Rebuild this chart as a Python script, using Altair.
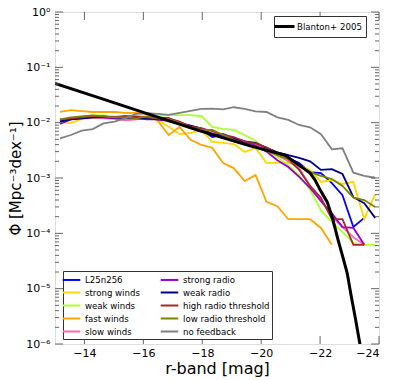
import altair as alt
import pandas as pd

# ---- data -------------------------------------------------------------
mags = [-13.17, -13.54, -13.91, -14.28, -14.65, -15.02, -15.38, -15.75, -16.12, -16.49,
        -16.86, -17.23, -17.60, -17.97, -18.34, -18.71, -19.07, -19.44, -19.81, -20.18,
        -20.55, -20.92, -21.29, -21.66, -22.03, -22.40, -22.76, -23.13, -23.50, -23.87]

phi_L25n256 = [1.12e-2, 1.16e-2, 1.26e-2, 1.32e-2, 1.26e-2, 1.26e-2, 1.32e-2, 1.26e-2, 1.21e-2, 1.21e-2,
               1.21e-2, 9.9e-3, 8.7e-3, 7.4e-3, 5.5e-3, 6.0e-3, 4.9e-3, 4.3e-3, 4.1e-3, 3.2e-3,
               2.7e-3, 2.3e-3, 1.87e-3, 1.28e-3, 1.23e-3, 8.1e-4, 4.9e-4, 1.3e-4, 1.9e-4, None]
phi_strong_winds = [1.03e-2, 9.9e-3, 1.16e-2, 1.21e-2, 1.21e-2, 1.16e-2, 1.12e-2, 1.16e-2, 1.21e-2, 1.12e-2,
                    8.4e-3, 6.2e-3, 6.5e-3, 7.4e-3, 4.5e-3, 4.3e-3, 4.1e-3, 2.95e-3, 3.5e-3, 1.87e-3,
                    1.87e-3, 1.87e-3, 1.7e-3, 1.4e-3, 8.5e-4, 9.2e-4, 7.8e-4, 8.5e-4, 1.8e-4, 5.1e-4]
phi_weak_winds = [1.1e-2, 1.2e-2, 1.3e-2, 1.35e-2, 1.35e-2, 1.3e-2, 1.3e-2, 1.3e-2, 1.3e-2, 1.3e-2,
                  1.37e-2, 1.37e-2, 1.37e-2, 1.32e-2, 8.4e-3, 7.7e-3, 7.4e-3, 6.0e-3, 4.7e-3, 3.3e-3,
                  2.4e-3, 1.7e-3, 1.13e-3, 6.1e-4, 2.6e-4, 1.6e-4, 1.06e-4, 6.7e-5, 6.2e-5, 6.2e-5]
phi_fast_winds = [1.56e-2, 1.69e-2, 1.62e-2, 1.56e-2, 1.56e-2, 1.56e-2, 1.5e-2, 1.5e-2, 1.44e-2, 1.07e-2,
                  6.0e-3, 8.4e-3, 4.9e-3, 3.95e-3, 3.5e-3, 1.87e-3, 1.51e-3, 8.8e-4, 1.13e-3, 3.7e-4,
                  3.1e-4, 1.8e-4, 1.8e-4, 1.8e-4, 1.25e-4, 6.2e-5, None, None, None, None]
phi_slow_winds = [1.1e-2, 1.2e-2, 1.25e-2, 1.25e-2, 1.2e-2, 1.2e-2, 1.1e-2, 1.15e-2, 1.2e-2, 1.15e-2,
                  1.05e-2, 9.5e-3, 8.5e-3, 7.0e-3, 6.5e-3, 5.8e-3, 5.2e-3, 4.6e-3, 4.0e-3, 3.4e-3,
                  2.6e-3, 2.0e-3, 1.5e-3, 7.2e-4, 4.0e-4, 2.0e-4, 1.3e-4, 8.5e-5, 6.2e-5, None]
phi_strong_radio = [9.5e-3, 1.15e-2, 1.2e-2, 1.25e-2, 1.25e-2, 1.2e-2, 1.2e-2, 1.2e-2, 1.15e-2, 1.15e-2,
                    1.1e-2, 1.0e-2, 8.8e-3, 7.6e-3, 6.3e-3, 5.8e-3, 5.0e-3, 4.5e-3, 3.8e-3, 3.0e-3,
                    2.1e-3, 1.58e-3, 1.05e-3, 6.6e-4, 3.8e-4, 2.3e-4, 1.3e-4, 1.25e-4, 6.2e-5, None]
phi_weak_radio = [1.05e-2, 1.15e-2, 1.2e-2, 1.25e-2, 1.28e-2, 1.25e-2, 1.22e-2, 1.25e-2, 1.2e-2, 1.15e-2,
                  1.1e-2, 9.5e-3, 8.8e-3, 7.8e-3, 6.0e-3, 6.2e-3, 5.2e-3, 4.6e-3, 4.3e-3, 3.5e-3,
                  2.9e-3, 2.6e-3, 2.3e-3, 2.0e-3, 1.4e-3, 1.45e-3, 1.18e-3, 4.5e-4, 3.5e-4, 1.9e-4]
phi_high_radio_threshold = [1.15e-2, 1.2e-2, 1.25e-2, 1.3e-2, 1.3e-2, 1.25e-2, 1.3e-2, 1.3e-2, 1.25e-2, 1.2e-2,
                            1.2e-2, 1.05e-2, 8.5e-3, 8.0e-3, 7.0e-3, 6.0e-3, 5.5e-3, 4.6e-3, 4.2e-3, 3.6e-3,
                            2.8e-3, 2.2e-3, 1.4e-3, 7.2e-4, 4.4e-4, 1.8e-4, 1.8e-4, 6.2e-5, 6.2e-5, None]
phi_low_radio_threshold = [1.15e-2, 1.25e-2, 1.3e-2, 1.35e-2, 1.3e-2, 1.25e-2, 1.25e-2, 1.2e-2, 1.3e-2, 1.2e-2,
                           1.15e-2, 9.9e-3, 8.0e-3, 7.4e-3, 7.4e-3, 6.0e-3, 4.9e-3, 4.1e-3, 3.6e-3, 3.1e-3,
                           2.6e-3, 2.2e-3, 1.65e-3, 1.28e-3, 1.09e-3, 9.6e-4, 7.2e-4, 4.4e-4, 4.0e-4, 3.0e-4]
phi_no_feedback = [5.21e-3, 5.98e-3, 7.16e-3, 7.67e-3, 9.72e-3, 1.04e-2, 1.20e-2, 1.44e-2, 1.48e-2, 1.44e-2,
                   1.38e-2, 1.51e-2, 1.63e-2, 1.77e-2, 1.79e-2, 1.74e-2, 1.90e-2, 1.77e-2, 1.60e-2, 1.56e-2,
                   1.25e-2, 1.12e-2, 9.08e-3, 8.24e-3, 6.17e-3, 3.30e-3, 3.44e-3, 1.25e-3, 1.09e-3, 1.01e-3]

blanton_mag = [-13.0, -14.53, -16.23, -17.92, -19.62, -20.81, -21.66, -21.83, -22.0, -22.24,
               -22.41, -22.61, -22.78, -22.92, -23.05, -23.19, -23.36]
blanton_phi = [5.14e-2, 2.78e-2, 1.40e-2, 7.1e-3, 3.8e-3, 2.6e-3, 1.23e-3, 9.2e-4, 6.1e-4, 3.7e-4,
               1.97e-4, 7.6e-5, 3.6e-5, 1.92e-5, 7.7e-6, 3.08e-6, 9.5e-7]

series_names = ["L25n256", "strong winds", "weak winds", "fast winds", "slow winds",
                "strong radio", "weak radio", "high radio threshold", "low radio threshold", "no feedback"]
series_colors = ["#0000FF", "#FFD700", "#ADFF2F", "#FFA500", "#FF69B4",
                 "#9400D3", "#00008B", "#A52A2A", "#808000", "#808080"]
series_values = [phi_L25n256, phi_strong_winds, phi_weak_winds, phi_fast_winds, phi_slow_winds,
                 phi_strong_radio, phi_weak_radio, phi_high_radio_threshold, phi_low_radio_threshold,
                 phi_no_feedback]

y_major = [1e-6, 1e-5, 1e-4, 1e-3, 1e-2, 1e-1, 1.0]
y_minor = [k * 10.0 ** e for e in range(-6, 0) for k in range(2, 10)]
x_major = [-14, -16, -18, -20, -22, -24]

# ---- tables -----------------------------------------------------------
rows = []
for name, vals in zip(series_names, series_values):
    for i, (m, v) in enumerate(zip(mags, vals)):
        if v is not None:
            rows.append({"series": name, "mag": m, "phi": v, "idx": i})
df = pd.DataFrame(rows)
df_bl = pd.DataFrame({"mag": blanton_mag, "phi": blanton_phi, "series": "Blanton+ 2005"})
df_ymaj = pd.DataFrame({"phi": y_major})
df_ymin = pd.DataFrame({"phi": y_minor})
df_xmaj = pd.DataFrame({"mag": x_major})

W, H = 324, 332
FONT = "DejaVu Sans"
TICK = "#666666"
LINE_SYM = "M-1.6,0H1.6"

xscale = alt.Scale(domain=[-24, -13], reverse=True, nice=False, zero=False)
yscale = alt.Scale(type="log", domain=[1e-6, 1], nice=False)

y_label_expr = ("datum.value > 0.5 ? '10⁰' : datum.value > 0.05 ? '10⁻¹' : datum.value > 0.005 ? '10⁻²' : "
                "datum.value > 0.0005 ? '10⁻³' : datum.value > 0.00005 ? '10⁻⁴' : "
                "datum.value > 0.000005 ? '10⁻⁵' : '10⁻⁶'")

x_enc = alt.X("mag:Q", scale=xscale,
              axis=alt.Axis(values=x_major, ticks=False, domain=False, grid=False,
                            labelExpr="'\u2212' + abs(datum.value)", labelFontSize=11,
                            labelPadding=3, labelFont=FONT, labelColor="black",
                            title="r-band [mag]", titleFontSize=16, titleFont=FONT,
                            titleFontWeight="normal", titlePadding=2, titleColor="black"))
y_enc = alt.Y("phi:Q", scale=yscale,
              axis=alt.Axis(values=y_major, ticks=False, domain=False, grid=False,
                            labelExpr=y_label_expr, labelFontSize=11, labelPadding=5,
                            labelFont=FONT, labelColor="black",
                            title="Φ [Mpc⁻³dex⁻¹]", titleFontSize=15, titleFont=FONT,
                            titleFontWeight="normal", titlePadding=2, titleColor="black"))

lines = alt.Chart(df).mark_line(strokeWidth=1.8, clip=True).encode(
    x=x_enc, y=y_enc,
    color=alt.Color("series:N", scale=alt.Scale(domain=series_names, range=series_colors),
                    legend=alt.Legend(title=None, orient="none", legendX=8, legendY=259, columns=2,
                                      columnPadding=16, rowPadding=1, symbolType=LINE_SYM,
                                      symbolSize=121, symbolStrokeWidth=2, labelFontSize=8.6,
                                      labelFont=FONT, labelColor="black", labelOffset=7,
                                      strokeColor="#333333", fillColor="white", padding=2,
                                      cornerRadius=0, labelLimit=200)),
    order="idx:Q",
)

blanton = alt.Chart(df_bl).mark_line(strokeWidth=3, clip=True).encode(
    x="mag:Q", y="phi:Q",
    color=alt.Color("series:N", scale=alt.Scale(domain=["Blanton+ 2005"], range=["black"]),
                    legend=alt.Legend(title=None, orient="none", legendX=219, legendY=4,
                                      symbolType="M-2,0H2", symbolSize=100, symbolStrokeWidth=3,
                                      labelFontSize=8.6, labelFont=FONT, labelColor="black",
                                      labelOffset=6, strokeColor="#333333", fillColor="white",
                                      padding=4, cornerRadius=0)),
)

tick_layers = [
    alt.Chart(df_ymaj).mark_rule(color=TICK, strokeWidth=1).encode(y="phi:Q", x=alt.value(0), x2=alt.value(8)),
    alt.Chart(df_ymaj).mark_rule(color=TICK, strokeWidth=1).encode(y="phi:Q", x=alt.value(W), x2=alt.value(W - 8)),
    alt.Chart(df_ymin).mark_rule(color=TICK, strokeWidth=1).encode(y="phi:Q", x=alt.value(0), x2=alt.value(4)),
    alt.Chart(df_ymin).mark_rule(color=TICK, strokeWidth=1).encode(y="phi:Q", x=alt.value(W), x2=alt.value(W - 4)),
    alt.Chart(df_xmaj).mark_rule(color=TICK, strokeWidth=1).encode(x="mag:Q", y=alt.value(0), y2=alt.value(8)),
    alt.Chart(df_xmaj).mark_rule(color=TICK, strokeWidth=1).encode(x="mag:Q", y=alt.value(H), y2=alt.value(H - 8)),
]

chart = alt.layer(lines, blanton, *tick_layers).resolve_scale(color="independent").properties(
    width=W, height=H,
    autosize=alt.AutoSizeParams(type="none"),
    padding={"left": 47, "top": 4, "right": 8, "bottom": 36},
).configure_view(stroke="#555555", strokeWidth=1.2).configure(background="white")

chart.save("out.html", embed_options={"renderer": "svg", "actions": False})
